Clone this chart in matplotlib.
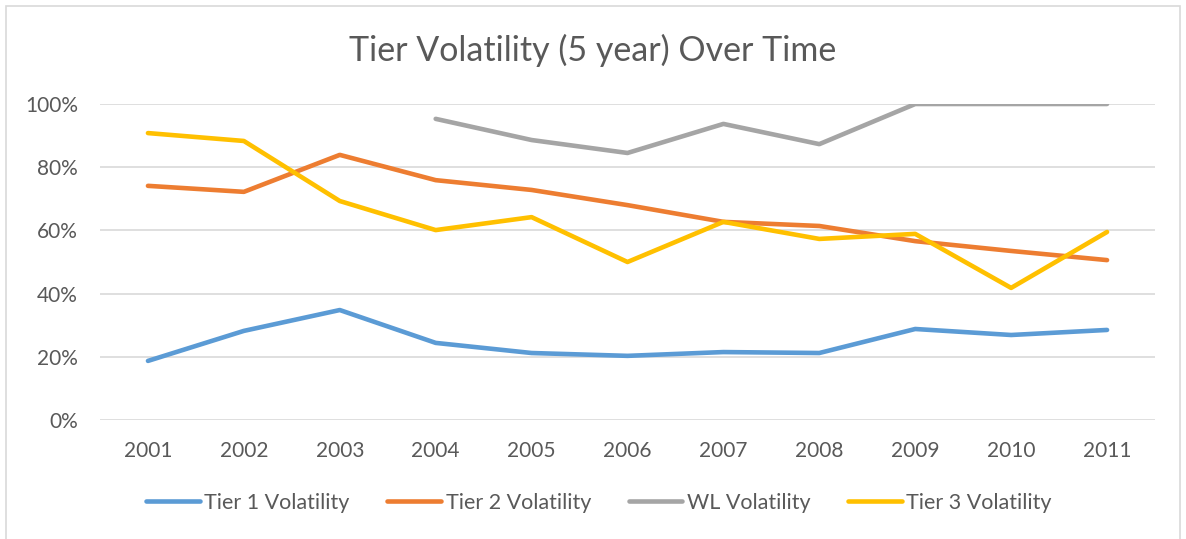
import matplotlib.pyplot as plt
import matplotlib.patches as patches
import numpy as np

years = ['2001', '2002', '2003', '2004', '2005', '2006',
         '2007', '2008', '2009', '2010', '2011']
tier1 = [0.187, 0.282, 0.348, 0.244, 0.212, 0.203, 0.215, 0.212, 0.288, 0.269, 0.285]
tier2 = [0.741, 0.722, 0.839, 0.759, 0.728, 0.680, 0.627, 0.614, 0.566, 0.535, 0.506]
wl = [np.nan, np.nan, np.nan, 0.953, 0.886, 0.845, 0.937, 0.873, 1.0, 1.0, 1.0]
tier3 = [0.908, 0.883, 0.693, 0.601, 0.642, 0.500, 0.627, 0.573, 0.589, 0.418, 0.595]

series = [('Tier 1 Volatility', tier1, '#5B9BD5'),
          ('Tier 2 Volatility', tier2, '#ED7D31'),
          ('WL Volatility', wl, '#A5A5A5'),
          ('Tier 3 Volatility', tier3, '#FFC000')]

txt = '#595959'
plt.rcParams['font.family'] = ['Lato', 'DejaVu Sans']

W, H = 1186, 539
fig = plt.figure(figsize=(W / 100, H / 100), dpi=100)
ax = fig.add_axes([100 / W, 1 - 420 / H, 1055 / W, 316 / H])

x = np.arange(len(years))
for name, vals, col in series:
    ax.plot(x, vals, color=col, lw=3.3, label=name,
            solid_capstyle='round', solid_joinstyle='round')

ax.set_xlim(-0.5, len(years) - 0.5)
ax.set_ylim(0, 1)
ax.set_yticks(np.arange(0, 1.01, 0.2))
ax.set_yticklabels([f'{int(round(v * 100))}%' for v in np.arange(0, 1.01, 0.2)])
ax.set_xticks(x)
ax.set_xticklabels(years)
ax.tick_params(length=0, labelsize=15, colors=txt)
ax.tick_params(axis='y', pad=16)
ax.tick_params(axis='x', pad=15)
for s in ax.spines.values():
    s.set_visible(False)
ax.grid(axis='y', color='#D9D9D9', lw=1.2)
ax.set_axisbelow(True)

fig.text(0.5, 1 - 50 / H, 'Tier Volatility (5 year) Over Time', ha='center',
         va='center', fontsize=24.5, color=txt, fontweight='normal')

fig.legend(loc='center', bbox_to_anchor=(0.505, 1 - 503 / H), ncol=4,
           frameon=False, fontsize=15.5, labelcolor=txt, handlelength=2.5,
           handletextpad=0.2, columnspacing=1.75)

fig.patches.append(patches.Rectangle((6 / W, -0.1), 1174 / W, 1.1 - 6 / H,
                                     transform=fig.transFigure, fill=False,
                                     edgecolor='#D9D9D9', lw=1.2))

fig.savefig('out.png', dpi=100)
